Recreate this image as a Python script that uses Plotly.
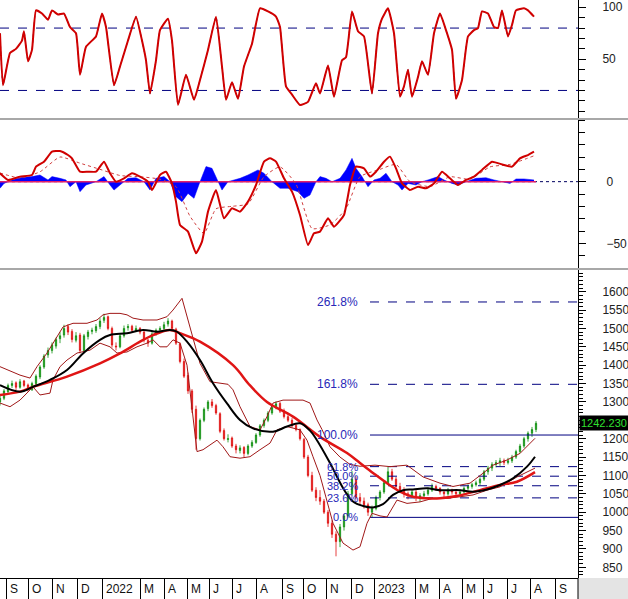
import plotly.graph_objects as go

# ---------------- data ----------------
month_starts = [6, 28, 52, 77, 102, 140, 164, 187, 209, 232, 256, 282, 303, 326, 351, 374, 415, 439, 462, 483, 507, 530, 555]
month_labels = ['S', 'O', 'N', 'D', '2022', 'M', 'A', 'M', 'J', 'J', 'A', 'S', 'O', 'N', 'D', '2023', 'M', 'A', 'M', 'J', 'J', 'A', 'S']

candle_x = list(range(0, 537, 4))
c_open = [1300,1310,1328,1345,1352,1340,1357,1346,1333,1350,1368,1395,1428,1440,1452,1472,1482,1505,1492,1468,
          1482,1440,1478,1492,1494,1505,1522,1532,1500,1452,1450,1480,1502,1506,1494,1500,1490,1468,1460,1486,
          1496,1500,1512,1520,1498,1458,1410,1372,1330,1280,1200,1250,1282,1300,1290,1268,1222,1198,1202,1180,
          1168,1176,1160,1180,1190,1210,1236,1250,1270,1286,1296,1276,1260,1250,1236,1225,1198,1150,1100,1060,
          1040,1030,1000,970,940,920,960,990,1050,1090,1040,1030,1020,1000,1010,1040,1055,1080,1110,1090,
          1070,1060,1050,1045,1055,1040,1045,1050,1060,1070,1065,1055,1050,1060,1055,1050,1055,1065,1070,1075,
          1080,1090,1110,1120,1130,1135,1140,1135,1140,1150,1165,1180,1200,1215,1225]
c_high = [1318,1335,1350,1358,1356,1362,1360,1350,1355,1375,1400,1430,1448,1462,1475,1490,1510,1512,1498,1490,
          1488,1485,1496,1502,1512,1528,1540,1535,1505,1462,1486,1508,1512,1510,1508,1504,1494,1472,1490,1500,
          1506,1518,1528,1524,1502,1462,1418,1380,1335,1290,1255,1285,1305,1308,1295,1272,1228,1212,1206,1186,
          1182,1180,1185,1196,1215,1240,1255,1275,1290,1302,1300,1282,1268,1256,1240,1228,1202,1156,1110,1068,
          1060,1036,1006,978,948,968,995,1058,1112,1098,1052,1040,1026,1018,1045,1060,1085,1125,1118,1096,
          1080,1068,1056,1062,1062,1052,1058,1068,1078,1075,1068,1060,1066,1064,1060,1062,1070,1076,1080,1086,
          1095,1115,1126,1136,1142,1148,1146,1148,1156,1170,1186,1205,1220,1232,1248]
c_low = [1290,1305,1322,1338,1332,1336,1340,1328,1330,1345,1362,1390,1420,1432,1445,1460,1475,1482,1462,1462,
         1432,1436,1470,1484,1488,1498,1515,1495,1448,1440,1446,1475,1494,1488,1490,1484,1462,1450,1456,1480,
         1490,1496,1505,1494,1455,1405,1365,1322,1270,1170,1195,1245,1275,1284,1265,1215,1195,1190,1175,1160,
         1160,1150,1155,1175,1186,1205,1230,1245,1265,1280,1270,1255,1245,1230,1220,1195,1145,1095,1055,1030,
         1020,995,960,930,880,905,950,985,1045,1035,1020,1010,990,986,1005,1032,1050,1075,1085,1062,
         1055,1040,1035,1040,1030,1028,1038,1045,1055,1058,1048,1040,1045,1048,1044,1046,1050,1060,1064,1070,
         1074,1085,1102,1112,1122,1126,1128,1130,1134,1145,1160,1175,1192,1205,1218]
c_close = [1310,1330,1345,1350,1340,1355,1345,1335,1350,1370,1395,1425,1440,1455,1470,1480,1500,1490,1470,1480,
           1440,1480,1490,1495,1505,1520,1530,1500,1455,1450,1480,1500,1505,1495,1500,1490,1470,1460,1485,1495,
           1500,1510,1520,1500,1460,1410,1370,1330,1280,1200,1250,1280,1300,1290,1270,1220,1200,1200,1180,1170,
           1175,1160,1180,1190,1210,1235,1250,1270,1285,1295,1275,1260,1250,1235,1225,1200,1150,1100,1060,1040,
           1030,1000,970,940,920,960,990,1050,1090,1040,1030,1020,1000,1010,1040,1055,1080,1110,1090,1070,
           1060,1050,1045,1055,1040,1045,1050,1060,1070,1065,1055,1050,1060,1055,1050,1055,1065,1070,1075,1080,
           1090,1110,1120,1130,1135,1140,1135,1140,1150,1165,1180,1200,1215,1225,1242]
last_price = 1242.23

ma20_x = [0,20,33,50,67,83,100,110,127,143,157,170,177,187,200,213,227,240,253,273,287,300,310,316,330,343,353,363,373,383,393,403,413,427,440,460,473,487,500,513,527,535]
ma20 = [1346,1328,1341,1360,1387,1432,1469,1482,1487,1496,1491,1496,1491,1464,1414,1351,1296,1251,1228,1219,1233,1242,1222,1200,1134,1066,1029,1017,1013,1022,1047,1060,1062,1065,1060,1060,1056,1062,1074,1092,1124,1151]

ma50_x = [0,20,33,67,100,120,140,153,170,180,200,233,250,267,293,320,347,360,373,387,400,413,427,440,457,480,500,517,535]
ma50 = [1319,1328,1341,1369,1405,1432,1464,1482,1496,1487,1464,1400,1345,1300,1260,1205,1161,1134,1107,1079,1056,1042,1038,1038,1044,1060,1074,1083,1109]

bb_up_x = [0,20,30,37,47,57,63,73,87,97,103,110,120,127,133,143,157,167,173,182,187,192,200,210,220,228,233,240,250,260,267,273,283,303,310,317,322,330,340,350,360,375,390,407,423,440,453,470,483,493,507,520,535]
bb_up = [1396,1373,1365,1396,1433,1477,1504,1514,1514,1523,1537,1541,1541,1537,1528,1523,1523,1532,1550,1582,1532,1478,1405,1355,1350,1348,1333,1287,1233,1224,1260,1297,1305,1305,1297,1251,1225,1178,1150,1130,1125,1128,1124,1128,1096,1079,1070,1079,1106,1128,1142,1160,1201]

bb_lo_x = [0,10,20,30,33,40,50,53,60,67,77,90,100,110,117,127,137,147,153,160,167,173,180,187,193,197,203,217,223,230,240,250,260,270,277,287,300,307,313,320,327,333,343,353,360,367,372,380,387,397,407,420,433,447,460,473,487,500,517,535]
bb_lo = [1297,1287,1305,1333,1341,1319,1324,1360,1396,1414,1433,1441,1460,1450,1433,1436,1450,1460,1469,1450,1450,1469,1460,1400,1250,1165,1170,1196,1178,1151,1147,1151,1170,1188,1224,1233,1224,1196,1151,1100,1030,970,916,897,906,970,997,990,987,1033,1024,1028,1038,1038,1042,1047,1060,1069,1096,1120]

fib_start = 370
fib_labels = ['0.0%', '23.6%', '38.2%', '50.0%', '61.8%', '100.0%', '161.8%', '261.8%']
fib_prices = [986, 1039, 1072, 1098, 1124, 1210, 1348, 1572]
fib_solid = [True, False, False, False, False, True, False, False]
fib_font = [11, 11, 11, 11, 11, 12, 12, 12]

stoch_x = [0,3,10,16,22,24,28,32,36,42,48,52,58,64,70,76,80,86,96,102,106,114,120,128,136,142,146,150,156,160,168,172,178,186,194,200,208,216,222,226,232,238,244,252,260,268,276,280,286,292,300,308,316,320,328,334,342,346,352,358,364,372,378,382,388,394,400,404,408,412,418,422,428,434,440,446,452,456,462,468,474,478,482,488,494,498,502,508,512,516,524,528,534]
stoch = [75,25,56,60,68,77,48,59,97,94,88,97,93,94,81,75,35,62,72,94,81,25,43,68,91,68,49,17,49,78,89,68,6,35,11,30,59,91,43,11,28,12,43,65,99,96,91,81,24,16,6,9,27,17,44,14,49,52,96,77,72,17,75,89,99,75,14,24,40,14,33,48,35,75,94,78,59,12,30,72,78,80,96,94,81,80,97,72,83,97,99,97,91]
stoch_levels = [80, 20]

macd_x = [0,8,20,32,36,44,52,60,68,72,80,88,96,104,110,116,124,132,140,148,152,160,166,172,176,180,188,196,202,208,216,224,232,240,248,256,264,270,276,284,292,300,308,314,320,328,334,344,350,356,364,370,376,384,390,396,402,410,418,426,434,442,450,458,466,474,482,492,504,512,520,528,534]
macd = [6.8,1.4,4.1,5.4,12.2,16.2,24.3,24.9,21.6,18.9,8.1,8.1,8.1,16.2,6.8,0,2.7,6.8,4.1,0,-6.8,5.4,8.1,-1.4,-16.2,-35.1,-40.5,-58.1,-48.6,-24.3,-6.8,-29.7,-21.6,-24.3,-16.2,-2.7,16.2,18.9,16.2,2.7,-8.1,-27.0,-51.4,-41.9,-40.5,-29.7,-36.5,-27.0,-2.7,12.2,10.8,4.1,8.1,16.2,20.3,10.8,-1.4,-6.8,-4.1,-5.4,-1.4,8.1,2.7,-2.7,1.4,4.1,9.5,16.2,13.5,12.2,18.9,21.6,24.3]

signal_x = [0,20,40,60,80,100,120,140,160,176,190,204,216,232,248,264,280,296,312,330,346,360,380,396,410,430,450,470,490,510,534]
signal = [7,3,8,20,15,10,5,4,2,-4,-28,-42,-22,-20,-18,4,12,-2,-38,-35,-22,4,10,14,0,-4,4,2,12,14,21]

hist_x = [0,4,12,20,32,40,48,52,60,66,70,76,80,86,96,104,110,114,120,128,136,144,150,156,164,170,176,182,188,194,200,206,212,218,222,228,234,240,248,258,264,272,280,288,298,304,310,316,320,326,332,340,346,352,356,362,368,374,380,386,392,398,402,408,416,422,428,438,444,452,458,466,476,486,494,504,510,516,524,534]
hist = [-5.4,-1.4,1.4,3.2,4.1,5.4,1.4,4.1,2.7,1.4,-4.1,0,-8.1,-2.7,0,4.1,-2.7,-6.8,-2.7,2.7,3.2,0,-6.8,2.7,4.1,0,-12.2,-16.2,-9.5,-13.5,0,12.2,10.8,0,-6.8,0,1.4,2.7,5.4,9.5,6.8,0,-5.4,-5.4,-8.1,-13.5,-10.8,0,4.1,2.7,0,2.7,9.5,18.9,10.8,4.1,-4.1,1.4,2.7,6.8,0,-2.7,-6.8,-1.4,-2.7,0,1.4,4.1,1.4,-1.4,-2.7,0,2.7,3.2,1.4,0,-1.4,2.2,2.2,1.4]
macd_zero_end = 536

# ---------------- figure ----------------
FONT = 'Liberation Sans, Arial, sans-serif'
W, H = 628, 599
ML, MR, MT, MB = 0, 50, 0, 21
PH = H - MT - MB
PW = W - ML - MR

def py(px):
    return 1 - px / PH

fig = go.Figure()

# --- stochastic panel ---
fig.add_trace(go.Scatter(x=stoch_x, y=stoch, mode='lines',
                         line=dict(color='#202060', width=1, dash='dot', shape='spline', smoothing=0.4),
                         yaxis='y', hoverinfo='skip'))
fig.add_trace(go.Scatter(x=stoch_x, y=stoch, mode='lines',
                         line=dict(color='#d00000', width=2, shape='spline', smoothing=0.4),
                         yaxis='y', hoverinfo='skip'))

# --- MACD panel ---
fig.add_trace(go.Scatter(x=hist_x, y=hist, mode='lines', line=dict(color='#0000ff', width=0.5),
                         fill='tozeroy', fillcolor='#0000ff', yaxis='y2', hoverinfo='skip'))
fig.add_trace(go.Scatter(x=[0, macd_zero_end], y=[0, 0], mode='lines', line=dict(color='#e0206a', width=1.5),
                         yaxis='y2', hoverinfo='skip'))
fig.add_trace(go.Scatter(x=signal_x, y=signal, mode='lines',
                         line=dict(color='#d04040', width=1, dash='dot', shape='spline', smoothing=0.5),
                         yaxis='y2', hoverinfo='skip'))
fig.add_trace(go.Scatter(x=macd_x, y=macd, mode='lines',
                         line=dict(color='#d00000', width=2, shape='spline', smoothing=0.4),
                         yaxis='y2', hoverinfo='skip'))

# --- price panel ---
for lab, pr, solid in zip(fib_labels, fib_prices, fib_solid):
    fig.add_trace(go.Scatter(x=[fib_start, PW], y=[pr, pr], mode='lines',
                             line=dict(color='#000080', width=1, dash=None if solid else 'dash'),
                             yaxis='y3', hoverinfo='skip'))

fig.add_trace(go.Candlestick(x=candle_x, open=c_open, high=c_high, low=c_low, close=c_close,
                             increasing=dict(line=dict(color='#109010', width=0.8), fillcolor='#109010'),
                             decreasing=dict(line=dict(color='#e01010', width=0.8), fillcolor='#e01010'),
                             whiskerwidth=0, yaxis='y3', hoverinfo='skip'))
fig.add_trace(go.Scatter(x=bb_up_x, y=bb_up, mode='lines', line=dict(color='#a01818', width=1),
                         yaxis='y3', hoverinfo='skip'))
fig.add_trace(go.Scatter(x=bb_lo_x, y=bb_lo, mode='lines', line=dict(color='#a01818', width=1),
                         yaxis='y3', hoverinfo='skip'))
fig.add_trace(go.Scatter(x=ma50_x, y=ma50, mode='lines', line=dict(color='#e01515', width=2.5, shape='spline'),
                         yaxis='y3', hoverinfo='skip'))
fig.add_trace(go.Scatter(x=ma20_x, y=ma20, mode='lines', line=dict(color='#000000', width=2, shape='spline'),
                         yaxis='y3', hoverinfo='skip'))

axis_font = dict(family=FONT, size=12, color='#222222')
common_y = dict(side='right', anchor='x', showgrid=False, zeroline=False, showline=True,
                linecolor='black', linewidth=1, ticks='outside', tickcolor='black', ticklen=7,
                tickfont=axis_font, fixedrange=True)

fig.update_layout(
    width=W, height=H,
    margin=dict(l=ML, r=MR, t=MT, b=MB),
    paper_bgcolor='white', plot_bgcolor='white',
    showlegend=False,
    boxgap=0.55,
    xaxis=dict(range=[0, PW], anchor='y3', showgrid=False, zeroline=False, showline=True,
               linecolor='black', linewidth=1, tickvals=month_starts, ticks='outside', ticklen=21,
               tickcolor='black', showticklabels=False, rangeslider=dict(visible=False)),
    yaxis=dict(domain=[py(118), 1.0], range=[-6.5, 107], tickvals=[50, 100], ticklabelstandoff=14,
               minor=dict(dtick=10, ticks='outside', ticklen=6, tickcolor='black'), **common_y),
    yaxis2=dict(domain=[py(268), py(120)], range=[-70, 50], tickvals=[-50, 0], ticklabelstandoff=18,
                minor=dict(dtick=10, ticks='outside', ticklen=6, tickcolor='black'), **common_y),
    yaxis3=dict(domain=[0, py(270)], range=[821, 1659],
                tickvals=[850, 900, 950, 1000, 1050, 1100, 1150, 1200, 1300, 1350, 1400, 1450, 1500, 1550, 1600],
                ticklabelstandoff=14,
                minor=dict(dtick=10, ticks='outside', ticklen=4, tickcolor='black'), **common_y),
)

shapes = []
for sep in (119, 269):
    shapes.append(dict(type='line', xref='paper', yref='paper', x0=0, x1=W / PW, y0=py(sep), y1=py(sep),
                       line=dict(color='#a8a8a8', width=2)))
for lv in stoch_levels:
    shapes.append(dict(type='line', xref='paper', yref='y', x0=0, x1=1, y0=lv, y1=lv,
                       line=dict(color='#000080', width=1, dash='dash'), layer='below'))
shapes.append(dict(type='line', xref='paper', yref='y2', x0=0, x1=1, y0=0, y1=0,
                   line=dict(color='#000060', width=1, dash='dot'), layer='below'))
shapes.append(dict(type='rect', xref='paper', yref='paper', x0=1, x1=W / PW, y0=-MB / PH, y1=0,
                   fillcolor='#e4e4e4', line=dict(width=0)))
shapes.append(dict(type='line', xref='paper', yref='paper', x0=1, x1=1, y0=-MB / PH, y1=0,
                   line=dict(color='black', width=1)))
fig.update_layout(shapes=shapes)

ann = []
for ms, lab in zip(month_starts, month_labels):
    ann.append(dict(x=ms, y=-MB / PH / 2, xref='x', yref='paper', text=lab, showarrow=False,
                    xanchor='left', yanchor='middle', xshift=2, font=dict(family=FONT, size=12, color='#111111')))
for lab, pr, fs in zip(fib_labels, fib_prices, fib_font):
    ann.append(dict(x=fib_start, y=pr, xref='x', yref='y3', text=lab, showarrow=False,
                    xanchor='right', yanchor='middle', xshift=-10, font=dict(family=FONT, size=fs, color='#2828b8')))
ann.append(dict(x=1, y=last_price, xref='paper', yref='y3', text='1242.230', showarrow=False,
                xanchor='left', yanchor='middle', xshift=1, bgcolor='black', borderpad=1,
                font=dict(family=FONT, size=11, color='#30e030')))
fig.update_layout(annotations=ann)

fig.write_html('out.html')
